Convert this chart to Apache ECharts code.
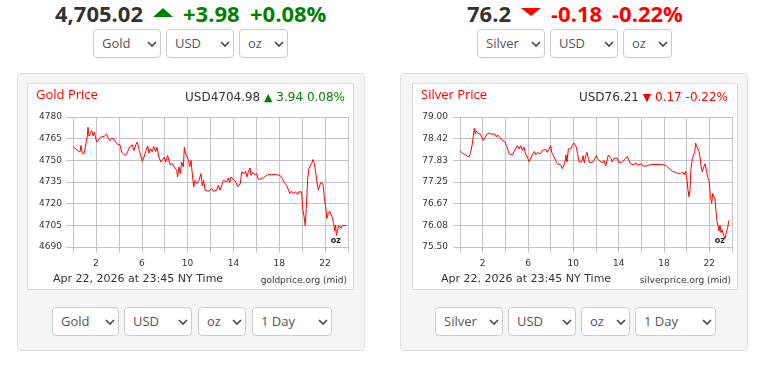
<!DOCTYPE html>
<html><head><meta charset="utf-8">
<script src="https://cdn.jsdelivr.net/npm/echarts@6/dist/echarts.min.js"></script>
<style>
html,body{margin:0;padding:0;background:#fff;width:781px;height:380px;overflow:hidden;font-family:'Open Sans',sans-serif;}
.big{position:absolute;top:2px;font:bold 22px/22px 'Open Sans',sans-serif;white-space:nowrap;}
.tri-up{position:absolute;top:8px;width:0;height:0;border-left:10px solid transparent;border-right:10px solid transparent;border-bottom:9px solid #008000;}
.tri-down{position:absolute;top:8px;width:0;height:0;border-left:10px solid transparent;border-right:10px solid transparent;border-top:8px solid #ff0000;}
.sel{position:absolute;z-index:5;box-sizing:border-box;height:29px;border:1px solid #ccc;border-radius:4px;background:#fff;color:#555;font:13px/27px 'Open Sans',sans-serif;padding-left:8px;white-space:nowrap;}
.sel svg{position:absolute;right:3px;top:11px;}
.panel{position:absolute;top:73px;width:348px;height:278px;box-sizing:border-box;background:#f5f5f5;border:1px solid #e2e2e2;border-radius:4px;}
.box{position:absolute;top:83px;height:207px;box-sizing:border-box;background:#fff;border:1px solid #ddd;}
.chart{position:absolute;left:0;top:0;width:325px;height:205px;}
</style>
</head><body>
<!-- Gold header -->
<div class="big" style="left:55px;color:#333">4,705.02</div>
<div class="tri-up" style="left:153px"></div>
<div class="big" style="left:183px;color:#008000">+3.98</div>
<div class="big" style="left:250px;color:#008000">+0.08%</div>
<!-- Silver header -->
<div class="big" style="left:467px;color:#333">76.2</div>
<div class="tri-down" style="left:521px"></div>
<div class="big" style="left:551px;color:#ff0000">-0.18</div>
<div class="big" style="left:612px;color:#ff0000">-0.22%</div>

<div class="panel" style="left:17px"></div>
<div class="panel" style="left:400px"></div>
<div class="box" style="left:27px;width:327px"><div id="gold" class="chart"></div></div>
<div class="box" style="left:412px;width:326px"><div id="silver" class="chart" style="width:324px"></div></div>

<div id="sels"></div>

<script>
// ---------------- DATA ----------------
const goldHours = [0.00,0.17,0.41,0.61,0.70,0.81,0.99,1.11,1.25,1.31,1.40,1.51,1.63,1.75,1.86,2.07,2.21,2.39,2.56,2.73,2.94,3.08,3.23,3.37,3.55,3.72,3.90,4.10,4.25,4.42,4.60,4.77,4.97,5.18,5.32,5.47,5.61,5.76,5.91,6.05,6.23,6.37,6.52,6.63,6.78,6.92,7.04,7.21,7.33,7.51,7.68,7.97,8.09,8.26,8.47,8.67,8.84,9.05,9.13,9.25,9.37,9.48,9.63,9.72,9.83,9.95,10.07,10.18,10.30,10.41,10.53,10.65,10.82,11.00,11.17,11.29,11.40,11.52,11.69,11.87,12.10,12.24,12.39,12.53,12.68,12.83,12.97,13.12,13.26,13.41,13.55,13.67,13.79,13.94,14.08,14.23,14.37,14.48,14.60,14.72,14.83,14.95,15.07,15.18,15.30,15.45,15.53,15.68,15.82,16.03,16.17,16.32,16.46,16.64,16.81,16.99,17.34,17.77,18.07,18.27,18.44,18.64,18.79,18.93,19.08,19.25,19.43,19.60,19.72,19.87,19.95,20.04,20.15,20.27,20.36,20.48,20.59,20.71,20.82,20.94,21.06,21.18,21.29,21.41,21.50,21.61,21.73,21.81,21.93,22.05,22.16,22.28,22.40,22.51,22.63,22.75,22.83,22.92,22.98,23.10,23.18,23.27,23.39,23.50,23.62,23.74,23.85];
const goldPrices = [4759.6,4758.4,4756.8,4755.7,4760.3,4754.5,4755.2,4754.0,4767.0,4772.9,4766.7,4767.6,4770.6,4767.0,4769.5,4762.6,4761.9,4766.0,4765.3,4766.7,4768.3,4765.3,4763.7,4765.3,4764.9,4762.6,4761.0,4760.7,4755.7,4754.1,4753.4,4756.1,4759.6,4760.7,4756.8,4760.7,4762.6,4757.5,4756.8,4749.3,4753.0,4756.8,4760.0,4755.0,4758.0,4756.0,4759.6,4756.0,4759.0,4752.0,4748.8,4752.2,4748.8,4753.4,4747.0,4747.7,4745.4,4743.1,4738.5,4745.4,4740.8,4748.8,4745.4,4759.1,4754.5,4754.5,4750.6,4745.4,4750.0,4740.8,4731.6,4736.2,4733.9,4736.2,4740.8,4732.3,4736.2,4729.3,4728.2,4728.6,4730.5,4728.6,4727.7,4729.3,4732.8,4729.3,4728.6,4736.2,4737.3,4735.0,4737.8,4734.6,4738.5,4737.8,4736.2,4734.6,4731.6,4730.5,4733.9,4741.9,4743.1,4740.8,4742.4,4738.5,4741.9,4744.7,4739.6,4741.5,4740.1,4740.8,4736.9,4735.7,4737.3,4738.0,4739.2,4740.1,4740.1,4740.1,4739.6,4737.3,4734.6,4732.8,4731.6,4727.0,4728.6,4727.0,4728.2,4726.3,4728.2,4727.0,4728.2,4716.7,4712.1,4704.8,4716.7,4737.3,4744.2,4746.1,4747.7,4750.6,4747.7,4741.9,4735.0,4729.3,4731.6,4734.6,4735.0,4733.9,4724.7,4717.8,4709.8,4713.3,4714.9,4714.0,4710.3,4706.4,4701.1,4705.2,4698.0,4701.8,4705.2,4704.1,4702.9,4704.8,4704.1,4704.8,4705.2];

const silverHours = [0.00,0.15,0.32,0.50,0.65,0.79,0.94,1.09,1.18,1.26,1.35,1.44,1.56,1.68,1.79,1.91,2.06,2.21,2.38,2.56,2.74,2.91,3.09,3.21,3.32,3.47,3.62,3.79,3.97,4.09,4.21,4.32,4.47,4.62,4.76,4.91,5.06,5.21,5.35,5.50,5.65,5.79,5.94,6.09,6.26,6.44,6.56,6.68,6.82,6.97,7.12,7.26,7.41,7.56,7.71,7.85,8.00,8.09,8.21,8.32,8.44,8.59,8.74,8.88,9.03,9.15,9.26,9.35,9.44,9.56,9.68,9.79,9.91,10.06,10.15,10.26,10.38,10.50,10.62,10.74,10.85,10.97,11.09,11.21,11.32,11.44,11.56,11.74,11.91,12.03,12.12,12.26,12.41,12.56,12.71,12.85,13.00,13.09,13.21,13.32,13.44,13.59,13.74,13.88,14.03,14.18,14.32,14.47,14.62,14.76,14.91,15.06,15.21,15.35,15.50,15.65,15.79,16.00,16.15,16.32,16.47,16.68,16.97,17.56,18.00,18.21,18.38,18.56,18.74,18.91,19.09,19.26,19.44,19.62,19.79,19.91,20.03,20.12,20.21,20.29,20.38,20.50,20.62,20.71,20.79,20.88,20.97,21.09,21.18,21.26,21.38,21.50,21.62,21.74,21.85,21.97,22.09,22.21,22.29,22.41,22.50,22.59,22.68,22.76,22.85,22.94,23.03,23.12,23.21,23.29,23.38,23.50,23.62,23.71,23.79];
const silverPrices = [78.10,78.04,78.01,77.98,78.01,77.92,78.05,78.28,78.50,78.70,78.54,78.63,78.57,78.61,78.54,78.46,78.37,78.39,78.54,78.57,78.54,78.57,78.54,78.46,78.52,78.48,78.41,78.37,78.32,78.23,78.14,78.01,78.04,77.98,78.07,78.14,78.23,78.14,78.23,78.10,78.19,78.01,77.92,77.80,77.85,78.01,78.07,77.98,78.04,78.07,78.01,78.10,78.05,78.13,78.05,78.13,78.23,78.05,77.98,77.98,77.83,77.74,77.70,77.71,77.61,77.68,77.79,77.98,77.79,78.14,78.19,78.14,78.23,78.30,78.34,78.19,78.01,77.79,77.83,77.79,77.96,77.77,77.96,78.05,77.88,77.77,77.80,77.79,77.80,77.96,77.89,77.83,77.79,77.77,77.83,77.68,77.63,77.98,78.01,77.88,77.79,77.89,77.92,77.89,77.77,77.74,77.79,77.77,77.88,77.94,77.83,77.74,77.77,77.71,77.77,77.70,77.74,77.74,77.68,77.63,77.68,77.71,77.72,77.72,77.71,77.68,77.63,77.59,77.54,77.56,77.50,77.54,77.47,77.52,77.45,77.54,77.29,77.03,76.85,77.03,77.61,77.88,77.98,78.05,78.30,78.21,78.25,78.07,77.92,77.70,77.52,77.65,77.74,77.56,77.38,77.29,76.89,76.67,76.94,76.91,76.79,76.45,76.18,76.09,75.93,76.09,75.89,75.96,75.87,75.91,75.72,75.89,76.02,76.20,76.22];

const goldYTicks = [4690, 4705, 4720, 4735, 4750, 4765, 4780];
const silverYTicks = [75.50, 76.08, 76.67, 77.25, 77.83, 78.42, 79.00];
const xLabelHours = [2, 6, 10, 14, 18, 22];
const xRange = [0, 24];

// ---------------- selects ----------------
const chevron = '<svg width="10" height="6"><polyline points="1,1 5,5 9,1" fill="none" stroke="#444" stroke-width="1.6"/></svg>';
const selects = [
  ['Gold',93,29,68],['USD',166,29,68],['oz',239,29,49],
  ['Silver',477,29,68],['USD',550,29,68],['oz',623,29,49],
  ['Gold',52,307,67],['USD',124,307,68],['oz',198,307,48],['1 Day',252,307,80],
  ['Silver',435,307,68],['USD',508,307,68],['oz',581,307,49],['1 Day',635,307,81]
];
document.getElementById('sels').innerHTML = selects.map(s =>
  `<div class="sel" style="left:${s[1]}px;top:${s[2]}px;width:${s[3]}px">${s[0]}${chevron}</div>`).join('');

// ---------------- charts ----------------
function makeChart(el, cfg) {
  const chart = echarts.init(el, null, {renderer: 'canvas'});
  const ticks = cfg.yTicks;
  const yMin = ticks[0], yMax = ticks[ticks.length - 1];
  const up = cfg.up;
  const chg = up ? '#008000' : '#ff0000';
  chart.setOption({
    animation: false,
    grid: {left: cfg.left, top: 33, width: cfg.width, height: 130, containLabel: false},
    xAxis: {
      type: 'value', min: xRange[0], max: xRange[1], interval: 2,
      axisLine: {show: false},
      axisTick: {show: true, length: 6, lineStyle: {color: '#c4c4c4', width: 1}},
      axisLabel: {margin: 12, color: '#333', fontFamily: 'DejaVu Sans', fontSize: 9,
        formatter: v => xLabelHours.indexOf(v) >= 0 ? String(v) : ''},
      splitLine: {show: true, lineStyle: {color: '#c4c4c4', width: 1}}
    },
    yAxis: {
      type: 'value', min: yMin, max: yMax, interval: (yMax - yMin) / (ticks.length - 1),
      axisLine: {show: false},
      axisTick: {show: true, length: 7, lineStyle: {color: '#c4c4c4', width: 1}},
      axisLabel: {margin: cfg.labelMargin, color: '#333', fontFamily: 'DejaVu Sans', fontSize: 9,
        formatter: v => v.toFixed(cfg.decimals)},
      splitLine: {show: true, lineStyle: {color: '#c4c4c4', width: 1}}
    },
    series: [{
      type: 'line', showSymbol: false, symbol: 'none',
      data: cfg.hours.map((h, i) => [h, cfg.prices[i]]),
      lineStyle: {color: '#ff0000', width: 1}
    }],
    graphic: [
      {type: 'text', left: 8, top: 5, style: {text: cfg.title, fill: '#ff0000', font: '13px "Open Sans"'}},
      {type: 'text', right: cfg.priceRight, top: 8, style: {
        text: '{p|' + cfg.priceText + ' }{t|' + (up ? '▲' : '▼') + '}{c| ' + cfg.chgText + '}',
        rich: {
          p: {fill: '#333', font: '12px "DejaVu Sans"'},
          t: {fill: chg, font: '11px "DejaVu Sans"'},
          c: {fill: chg, font: '12px "DejaVu Sans"'}
        }}},
      {type: 'text', left: cfg.footLeft, top: 190, style: {text: 'Apr 22, 2026 at 23:45 NY Time', fill: '#333', font: '11px "DejaVu Sans"'}},
      {type: 'text', right: cfg.srcRight, top: 192, style: {text: cfg.source, fill: '#333', font: '9px "DejaVu Sans"'}},
      {type: 'text', right: cfg.ozRight, top: 153, style: {text: 'oz', fill: '#222', font: 'bold 8px "DejaVu Sans"'}}
    ]
  });
}

makeChart(document.getElementById('gold'), {
  hours: goldHours, prices: goldPrices, yTicks: goldYTicks, decimals: 0,
  left: 45, width: 275, labelMargin: 11, up: true,
  title: 'Gold Price', priceText: 'USD4704.98', chgText: '3.94 0.08%', priceRight: 8,
  footLeft: 25, source: 'goldprice.org (mid)', srcRight: 6, ozRight: 12
});
makeChart(document.getElementById('silver'), {
  hours: silverHours, prices: silverPrices, yTicks: silverYTicks, decimals: 2,
  left: 47, width: 272, labelMargin: 12, up: false,
  title: 'Silver Price', priceText: 'USD76.21', chgText: '0.17 -0.22%', priceRight: 9,
  footLeft: 28, source: 'silverprice.org (mid)', srcRight: 6, ozRight: 12
});
</script>
</body></html>
